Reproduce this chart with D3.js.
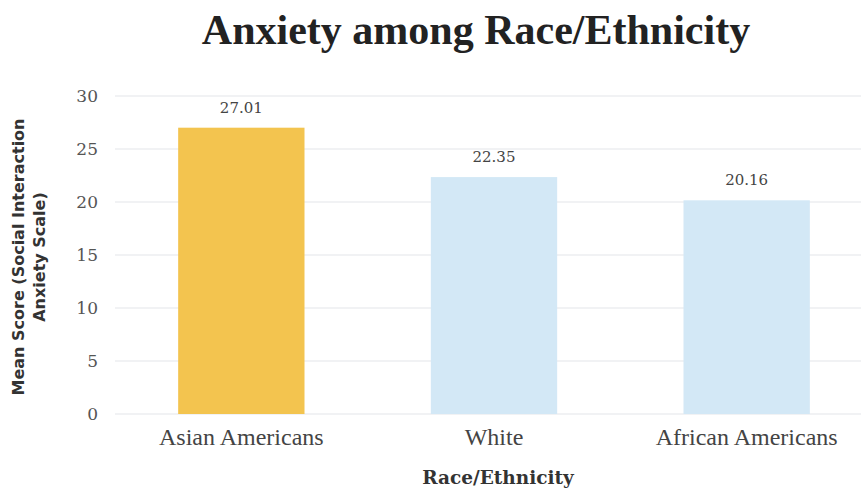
<!DOCTYPE html>
<html><head><meta charset="utf-8">
<script src="https://cdn.jsdelivr.net/npm/d3@7"></script>
<style>body{margin:0;background:#fff}</style>
</head><body>
<svg id="chart" width="861" height="492"></svg>
<script>
const categories = ["Asian Americans", "White", "African Americans"];
const values = [27.01, 22.35, 20.16];
const barColors = ["#F3C44F", "#D3E8F6", "#D3E8F6"];
const yTicks = [0, 5, 10, 15, 20, 25, 30];
const title = "Anxiety among Race/Ethnicity";
const xTitle = "Race/Ethnicity";
const yTitleLines = ["Mean Score (Social Interaction", "Anxiety Scale)"];

const svg = d3.select("#chart");
const serif = "'Liberation Serif', 'DejaVu Serif', serif";
const dserif = "'DejaVu Serif', serif";
const sans = "'DejaVu Sans', sans-serif";

const y = d3.scaleLinear().domain([0, 30]).range([414, 96]);
const x = d3.scaleBand().domain(categories).range([115, 873]).paddingInner(0.5).paddingOuter(0.25);

// gridlines
svg.append("g").selectAll("line").data(yTicks).join("line")
  .attr("x1", 115).attr("x2", 861)
  .attr("y1", d => y(d)).attr("y2", d => y(d))
  .attr("stroke", "#ECEEF1").attr("stroke-width", 1.5);

// y tick labels
const yAxis = d3.axisLeft(y).tickValues(yTicks).tickSize(0).tickPadding(0);
const ya = svg.append("g").attr("transform", "translate(98,0)").call(yAxis);
ya.select(".domain").remove();
ya.selectAll("text").attr("font-family", dserif).attr("font-size", 17).attr("fill", "#555");

// bars
svg.append("g").selectAll("rect").data(values).join("rect")
  .attr("x", (d, i) => x(categories[i]))
  .attr("width", x.bandwidth())
  .attr("y", d => y(d))
  .attr("height", d => y(0) - y(d))
  .attr("fill", (d, i) => barColors[i]);

// value labels
svg.append("g").selectAll("text").data(values).join("text")
  .attr("x", (d, i) => x(categories[i]) + x.bandwidth() / 2)
  .attr("y", d => y(d) - 15)
  .attr("text-anchor", "middle")
  .attr("font-family", dserif).attr("font-size", 15).attr("fill", "#444")
  .text(d => d.toFixed(2));

// x axis labels
const xAxis = d3.axisBottom(x).tickSize(0).tickPadding(0);
const xa = svg.append("g").attr("transform", "translate(0,445)").call(xAxis);
xa.select(".domain").remove();
xa.selectAll("text").attr("font-family", serif).attr("font-size", 24).attr("fill", "#444").attr("dy", 0);

// titles
svg.append("text").attr("x", 476).attr("y", 44).attr("text-anchor", "middle")
  .attr("font-family", serif).attr("font-weight", "bold").attr("font-size", 42).attr("fill", "#222")
  .text(title);

svg.append("text").attr("x", 498).attr("y", 484).attr("text-anchor", "middle")
  .attr("font-family", dserif).attr("font-weight", "bold").attr("font-size", 18.5).attr("fill", "#333")
  .text(xTitle);

const yt = svg.append("text").attr("transform", "translate(24,257) rotate(-90)")
  .attr("text-anchor", "middle").attr("font-family", sans).attr("font-weight", "bold")
  .attr("font-size", 16).attr("fill", "#333");
yt.selectAll("tspan").data(yTitleLines).join("tspan")
  .attr("x", 0).attr("dy", (d, i) => i === 0 ? 0 : 21).text(d => d);
</script>
</body></html>
